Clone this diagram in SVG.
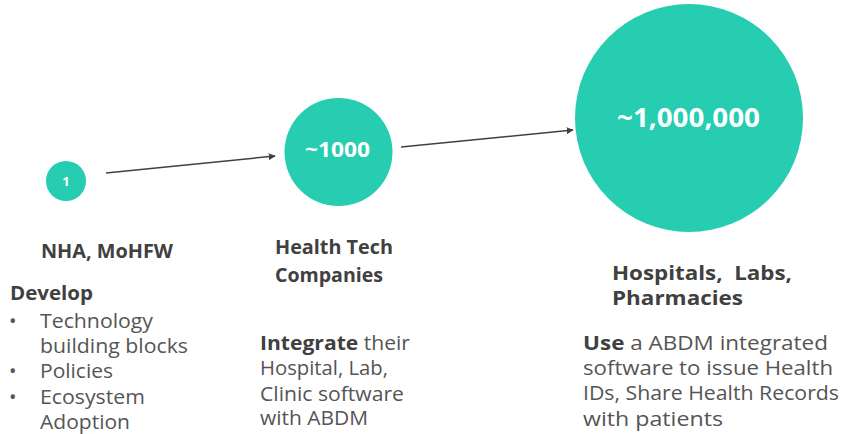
<svg xmlns="http://www.w3.org/2000/svg" width="842" height="434" viewBox="0 0 842 434">
<style>
.c{fill:#26CDB0}
.n{font-family:"Open Sans","Noto Sans",sans-serif;font-weight:700;fill:#fff}
.h{font-family:"Open Sans","Noto Sans",sans-serif;font-weight:700;fill:#404040;font-size:20px}
.b{font-family:"Open Sans","Noto Sans",sans-serif;fill:#555;font-size:20px}
.bb{font-weight:700;fill:#404040}
.e{stroke:#404040;stroke-width:1.5;fill:none}
</style>
<defs>
<marker id="a" viewBox="0 0 10 10" refX="9" refY="5" markerWidth="7" markerHeight="7" orient="auto" markerUnits="userSpaceOnUse"><path d="M0,0L10,5L0,10z" fill="#404040"/></marker>
</defs>
<g id="connectors">
<line class="e" x1="106" y1="173" x2="275" y2="156" marker-end="url(#a)"/>
<line class="e" x1="401" y1="147" x2="573" y2="130" marker-end="url(#a)"/>
</g>
<g id="nha">
<circle class="c" cx="66" cy="181" r="20"/>
<text class="n" x="66" y="186" font-size="13" text-anchor="middle">1</text>
<text class="h" x="41" y="258" textLength="132" lengthAdjust="spacingAndGlyphs">NHA, MoHFW</text>
<text class="b" x="10" y="300" textLength="83" lengthAdjust="spacingAndGlyphs"><tspan class="bb">Develop</tspan></text>
<text class="b" x="9" y="328">•</text>
<text class="b" x="40" y="328" textLength="113" lengthAdjust="spacingAndGlyphs">Technology</text>
<text class="b" x="40" y="353" textLength="148" lengthAdjust="spacingAndGlyphs">building blocks</text>
<text class="b" x="9" y="378">•</text>
<text class="b" x="40" y="378" textLength="73" lengthAdjust="spacingAndGlyphs">Policies</text>
<text class="b" x="9" y="404">•</text>
<text class="b" x="40" y="404" textLength="105" lengthAdjust="spacingAndGlyphs">Ecosystem</text>
<text class="b" x="40" y="429" textLength="90" lengthAdjust="spacingAndGlyphs">Adoption</text>
</g>
<g id="tech">
<circle class="c" cx="338.5" cy="152" r="54"/>
<text class="n" x="305" y="157" font-size="21" textLength="65" lengthAdjust="spacingAndGlyphs">~1000</text>
<text class="h" x="275" y="254" textLength="118" lengthAdjust="spacingAndGlyphs">Health Tech</text>
<text class="h" x="275" y="282" textLength="108" lengthAdjust="spacingAndGlyphs">Companies</text>
<text class="b" x="260" y="350" textLength="150" lengthAdjust="spacingAndGlyphs"><tspan class="bb">Integrate</tspan> their</text>
<text class="b" x="260" y="375" textLength="128" lengthAdjust="spacingAndGlyphs">Hospital, Lab,</text>
<text class="b" x="260" y="401" textLength="144" lengthAdjust="spacingAndGlyphs">Clinic software</text>
<text class="b" x="260" y="425" textLength="108" lengthAdjust="spacingAndGlyphs">with ABDM</text>
</g>
<g id="hospitals">
<circle class="c" cx="689" cy="118" r="114"/>
<text class="n" x="617" y="127" font-size="27" textLength="143" lengthAdjust="spacingAndGlyphs">~1,000,000</text>
<text class="h" x="612" y="280" textLength="180" lengthAdjust="spacingAndGlyphs" style="white-space:pre">Hospitals,  Labs,</text>
<text class="h" x="612" y="305" textLength="131" lengthAdjust="spacingAndGlyphs">Pharmacies</text>
<text class="b" x="583" y="350" textLength="245" lengthAdjust="spacingAndGlyphs"><tspan class="bb">Use</tspan> a ABDM integrated</text>
<text class="b" x="583" y="375" textLength="250" lengthAdjust="spacingAndGlyphs">software to issue Health</text>
<text class="b" x="583" y="400" textLength="256" lengthAdjust="spacingAndGlyphs">IDs, Share Health Records</text>
<text class="b" x="583" y="426" textLength="140" lengthAdjust="spacingAndGlyphs">with patients</text>
</g>
</svg>
